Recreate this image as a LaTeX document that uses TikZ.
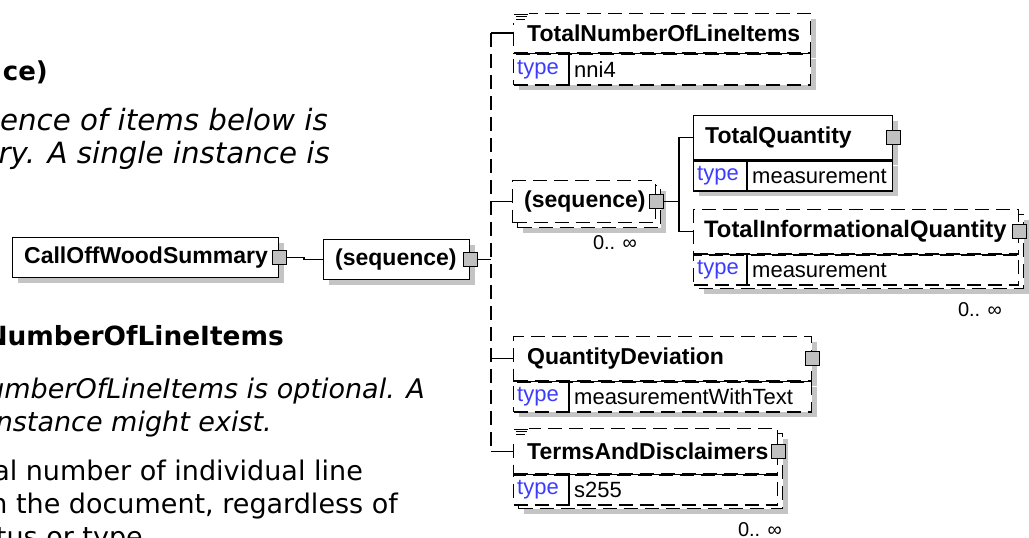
\documentclass[tikz,border=0pt]{standalone}
\usepackage{fontspec}
\setmainfont{Liberation Sans}
\newfontfamily\docfont{DejaVu Sans}[ItalicFont={DejaVu Sans Oblique}, BoldFont={DejaVu Sans Bold}]
\usetikzlibrary{shadows}

\definecolor{typeblue}{RGB}{60,60,255}
\definecolor{shadegray}{RGB}{196,196,196}
\definecolor{knobgray}{RGB}{192,192,192}

\tikzset{
  boxline/.style={draw=black, line width=1.4pt, fill=white, inner sep=0pt, anchor=north west},
  optional/.style={dash pattern=on 14pt off 7pt},
  shadowed/.style={drop shadow={shadow xshift=5pt, shadow yshift=-5pt, fill=shadegray, opacity=1}},
  namerow/.style={boxline, minimum height=44pt},
  typerow/.style={boxline, minimum height=30pt},
  elemname/.style={font=\bfseries\fontsize{23}{26}\selectfont, anchor=west, inner sep=0pt},
  typekey/.style={font=\fontsize{22}{24}\selectfont, text=typeblue, anchor=west, inner sep=0pt},
  typeval/.style={font=\fontsize{22}{24}\selectfont, anchor=west, inner sep=0pt},
  knob/.style={draw=black, fill=knobgray, line width=1pt, minimum size=14pt, inner sep=0pt},
  occurs/.style={font=\fontsize{20}{22}\selectfont, inner sep=0pt},
  link/.style={line width=1.4pt},
  doctitle/.style={font=\docfont\bfseries\fontsize{26}{33}\selectfont, anchor=base east, inner sep=0pt},
  docitalic/.style={font=\docfont\itshape\fontsize{27}{33}\selectfont, anchor=base east, inner sep=0pt},
  docplain/.style={font=\docfont\fontsize{27}{33}\selectfont, anchor=base east, inner sep=0pt},
}

\begin{document}
\begin{tikzpicture}[x=1pt, y=-1pt]
  \useasboundingbox (0,0) rectangle (1029,538);
  \clip (0,0) rectangle (1029,538);

  % documentation text, cut off at the left edge
  \node[doctitle] (h1) at (48,80) {ce)};
  \node[docitalic, font=\docfont\itshape\fontsize{29.3}{33}\selectfont] (p1a) at (328,130) {ence of items below is};
  \node[docitalic, font=\docfont\itshape\fontsize{29.3}{33}\selectfont] (p1b) at (330,163) {ry. A single instance is};
  \node[doctitle, font=\docfont\bfseries\fontsize{26.4}{33}\selectfont] (h2) at (284,345) {NumberOfLineItems};
  \node[docitalic] (p2a) at (425,398) {umberOfLineItems is optional. A};
  \node[docitalic] (p2b) at (272,431) {instance might exist.};
  \node[docplain] (p3a) at (363,480) {al number of individual line};
  \node[docplain] (p3b) at (398,513) {n the document, regardless of};
  \node[docplain] (p3c) at (143,546) {tus or type};

  % root element and its sequence
  \node[namerow, shadowed, minimum width=266pt, minimum height=40pt] (root) at (12,237) {};
  \node[elemname] at ([xshift=12pt]root.west) {CallOffWoodSummary};
  \node[knob] (rootx) at (root.east) {};
  \node[namerow, shadowed, minimum width=146pt, minimum height=40pt] (seq) at (323,239) {};
  \node[elemname] at ([xshift=12pt]seq.west) {(sequence)};
  \node[knob] (seqx) at (seq.east) {};
  \draw[link] (rootx.east) -- ++(17,0) |- (seq.west);

  % TotalNumberOfLineItems
  \node[namerow, optional, shadowed, minimum width=297pt, minimum height=39pt] (tnli) at (513,13) {};
  \node[typerow, optional, shadowed, minimum width=297pt, minimum height=31pt] (tnlitype) at (tnli.south west) {};
  \draw[link] (tnli.south west) -- (tnli.south east);
  \draw[link] ([xshift=56pt]tnlitype.north west) -- ([xshift=56pt]tnlitype.south west);
  \node[elemname] at ([xshift=14pt]tnli.west) {TotalNumberOfLineItems};
  \node[typekey] at ([xshift=4pt]tnlitype.west) {type};
  \node[typeval] at ([xshift=61pt]tnlitype.west) {nni4};
  \fill[white] ([shift={(-1pt,1pt)}]tnli.north west) rectangle ([shift={(16pt,-10pt)}]tnli.north west);
  \draw[line width=1pt] ([shift={(1pt,-1pt)}]tnli.north west) -- ++(14,0)
    ([shift={(3pt,-3.5pt)}]tnli.north west) -- ++(11,0)
    ([shift={(3pt,-6pt)}]tnli.north west) -- ++(9,0);

  % inner sequence, repeated
  \node[namerow, optional, shadowed, minimum width=143pt, minimum height=42pt] (iseqback) at (517,185) {};
  \node[namerow, optional, minimum width=143pt, minimum height=42pt] (iseq) at (512,180) {};
  \node[elemname] at ([xshift=12pt]iseq.west) {(sequence)};
  \node[knob] (iseqx) at (iseq.east) {};
  \node[occurs] (iseqocc) at (615,243) {0.. ∞};
  \coordinate (fork) at ([xshift=15pt]iseqx.east);

  % TotalQuantity
  \node[namerow, shadowed, minimum width=199pt] (tq) at (693,115) {};
  \node[typerow, shadowed, minimum width=199pt] (tqtype) at (tq.south west) {};
  \draw[link] ([xshift=54pt]tqtype.north west) -- ([xshift=54pt]tqtype.south west);
  \node[elemname] at ([xshift=12pt]tq.west) {TotalQuantity};
  \node[typekey] at ([xshift=4pt]tqtype.west) {type};
  \node[typeval] at ([xshift=59pt]tqtype.west) {measurement};
  \node[knob] (tqx) at (tq.east) {};

  % TotalInformationalQuantity, repeated
  \node[namerow, optional, shadowed, minimum width=325pt, minimum height=74pt] (tiqback) at (698,214) {};
  \node[namerow, optional, minimum width=325pt] (tiq) at (693,209) {};
  \node[typerow, optional, minimum width=325pt] (tiqtype) at (tiq.south west) {};
  \draw[link] (tiq.south west) -- (tiq.south east);
  \draw[link] ([xshift=54pt]tiqtype.north west) -- ([xshift=54pt]tiqtype.south west);
  \node[elemname, font=\bfseries\fontsize{23.8}{26}\selectfont] at ([xshift=11pt]tiq.west) {TotalInformationalQuantity};
  \node[typekey] at ([xshift=4pt]tiqtype.west) {type};
  \node[typeval] at ([xshift=59pt]tiqtype.west) {measurement};
  \node[knob] (tiqx) at (tiq.east) {};
  \node[occurs] (tiqocc) at (980,310) {0.. ∞};

  % QuantityDeviation
  \node[namerow, optional, shadowed, minimum width=298pt] (qd) at (513,336) {};
  \node[typerow, optional, shadowed, minimum width=298pt] (qdtype) at (qd.south west) {};
  \draw[link] (qd.south west) -- (qd.south east);
  \draw[link] ([xshift=56pt]qdtype.north west) -- ([xshift=56pt]qdtype.south west);
  \node[elemname] at ([xshift=14pt]qd.west) {QuantityDeviation};
  \node[typekey] at ([xshift=4pt]qdtype.west) {type};
  \node[typeval] at ([xshift=61pt]qdtype.west) {measurementWithText};
  \node[knob] (qdx) at (qd.east) {};

  % TermsAndDisclaimers, repeated
  \node[namerow, optional, shadowed, minimum width=264pt, minimum height=75pt] (tdback) at (518,433) {};
  \node[namerow, optional, minimum width=264pt, minimum height=45pt] (td) at (513,428) {};
  \node[typerow, optional, minimum width=264pt] (tdtype) at (td.south west) {};
  \draw[link] (td.south west) -- (td.south east);
  \draw[link] ([xshift=56pt]tdtype.north west) -- ([xshift=56pt]tdtype.south west);
  \node[elemname] at ([xshift=14pt]td.west) {TermsAndDisclaimers};
  \node[typekey] at ([xshift=4pt]tdtype.west) {type};
  \node[typeval] at ([xshift=61pt]tdtype.west) {s255};
  \node[knob] (tdx) at (td.east) {};
  \node[occurs] (tdocc) at (760,530) {0.. ∞};
  \fill[white] ([shift={(-1pt,1pt)}]td.north west) rectangle ([shift={(16pt,-10pt)}]td.north west);
  \draw[line width=1pt] ([shift={(1pt,-1pt)}]td.north west) -- ++(14,0)
    ([shift={(3pt,-3.5pt)}]td.north west) -- ++(11,0)
    ([shift={(3pt,-6pt)}]td.north west) -- ++(9,0);

  % connectors
  \coordinate (trunk) at (491,33);
  \draw[link] (seqx.east) -- (seqx.east -| trunk);
  \draw[link, optional] (trunk) -- (trunk |- td.west);
  \draw[link] (trunk) -- (trunk -| tnli.west);
  \draw[link] (trunk |- iseq.west) -- (iseq.west);
  \draw[link] (trunk |- qd.west) -- (qd.west);
  \draw[link] (trunk |- td.west) -- (td.west);
  \draw[link] (iseqx.east) -- (fork);
  \draw[link] (tq.west) -| (fork) |- (tiq.west);
\end{tikzpicture}
\end{document}
